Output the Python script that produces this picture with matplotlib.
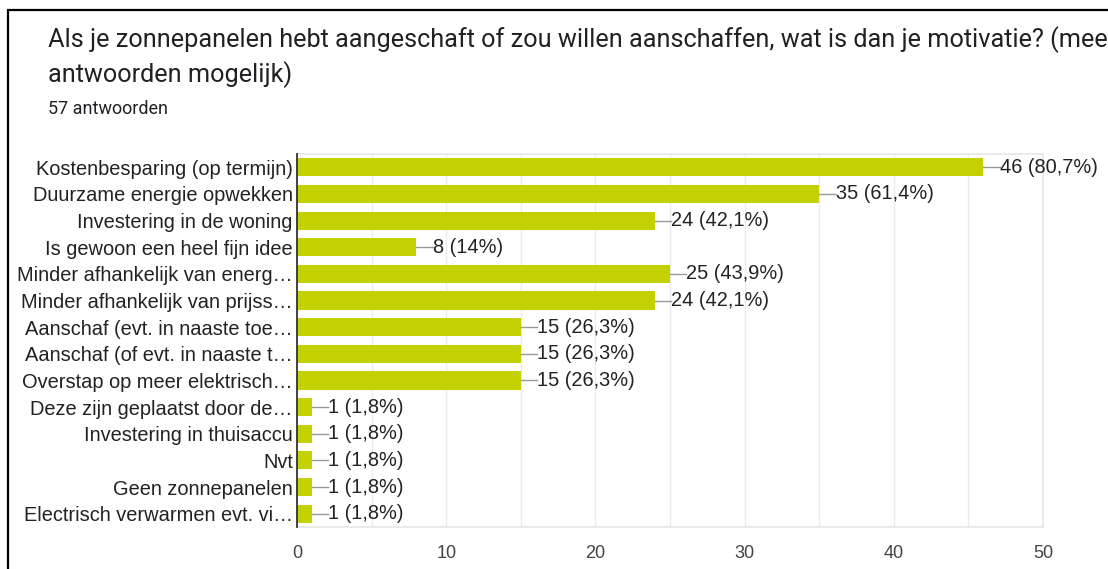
import matplotlib.pyplot as plt
from matplotlib.patches import Rectangle

# ── Data ────────────────────────────────────────────────────
categories = [
    "Kostenbesparing (op termijn)",
    "Duurzame energie opwekken",
    "Investering in de woning",
    "Is gewoon een heel fijn idee",
    "Minder afhankelijk van energ…",
    "Minder afhankelijk van prijss…",
    "Aanschaf (evt. in naaste toe…",
    "Aanschaf (of evt. in naaste t…",
    "Overstap op meer elektrisch…",
    "Deze zijn geplaatst door de…",
    "Investering in thuisaccu",
    "Nvt",
    "Geen zonnepanelen",
    "Electrisch verwarmen evt. vi…",
]
counts = [46, 35, 24, 8, 25, 24, 15, 15, 15, 1, 1, 1, 1, 1]
pct_labels = ["80,7%", "61,4%", "42,1%", "14%", "43,9%", "42,1%", "26,3%",
              "26,3%", "26,3%", "1,8%", "1,8%", "1,8%", "1,8%", "1,8%"]
x_ticks = [0, 10, 20, 30, 40, 50]

BAR = "#c4d100"
TXT = "#222222"
FS = 14.4

fig = plt.figure(figsize=(11.08, 5.69), dpi=100)

# kader
fig.patches.append(Rectangle((8 / 1108, -0.1), 1.2, 1 - 10 / 569 + 0.1,
                             transform=fig.transFigure, fill=False,
                             edgecolor="black", linewidth=1.6))

fig.text(48 / 1108, 1 - 40 / 569,
         "Als je zonnepanelen hebt aangeschaft of zou willen aanschaffen, "
         "wat is dan je motivatie? (meer",
         fontsize=18.2, family="Roboto", color="#202124", va="center")
fig.text(48 / 1108, 1 - 75 / 569, "antwoorden mogelijk)",
         fontsize=18.2, family="Roboto", color="#202124", va="center")
fig.text(48 / 1108, 1 - 109 / 569, "57 antwoorden",
         fontsize=13, family="Roboto", color="#202124", va="center")

ax = fig.add_axes([297 / 1108, 1 - 527 / 569, (1043 - 297) / 1108, (527 - 154) / 569])
y = list(range(len(categories)))
ax.barh(y, counts, height=0.68, color=BAR, zorder=3)
ax.set_ylim(len(categories) - 0.5, -0.5)
ax.set_xlim(0, 50)
ax.set_yticks(y)
ax.set_yticklabels(categories, family="Liberation Sans", fontsize=FS, color=TXT)
ax.set_xticks(x_ticks)
ax.set_xticklabels([str(t) for t in x_ticks], family="Liberation Sans",
                   fontsize=13, color="#444444")
ax.set_xticks(range(5, 50, 10), minor=True)
ax.tick_params(axis="both", length=0, pad=3)
ax.tick_params(axis="x", pad=13)
ax.tick_params(axis="x", which="minor", length=0)
ax.grid(axis="x", which="both", color="#ebebeb", linewidth=1, zorder=0)

for s in ("top", "right", "bottom"):
    ax.spines[s].set_color("#e6e6e6")
    ax.spines[s].set_linewidth(1.2)
ax.spines["left"].set_color("#333333")
ax.spines["left"].set_linewidth(1.3)
ax.spines["left"].set_zorder(4)

for yi, c, p in zip(y, counts, pct_labels):
    ax.plot([c, c + 1.1], [yi, yi], color="#999999", linewidth=1, zorder=3)
    ax.text(c + 1.1, yi, f"{c} ({p})", va="center", ha="left",
            family="Liberation Sans", fontsize=FS, color=TXT, zorder=4)

fig.savefig("out.png", dpi=100)
